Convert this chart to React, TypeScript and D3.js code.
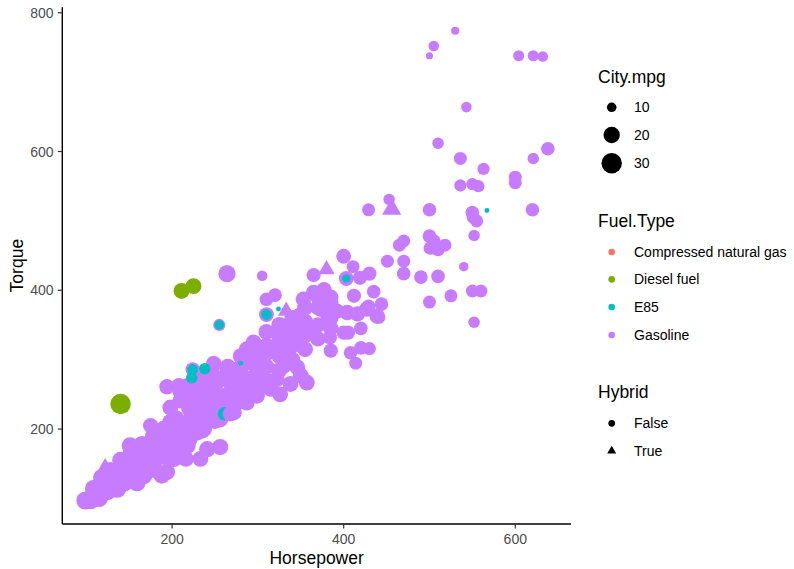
import React from 'react';
import * as d3 from 'd3';

// ---- data: [Horsepower, Torque, City.mpg] ----
const gasoline: [number, number, number][] = [
  [530, 774, 9], [505, 752, 11], [500, 738, 8.5], [604, 738, 11.5], [621, 738, 11.5], [632, 737, 11],
  [543, 664, 11], [510, 612, 12], [638, 604, 15], [621, 590, 12], [536, 590, 14], [563, 575, 13],
  [600, 563, 14], [600, 555, 14], [536, 551, 13], [550, 553, 13], [557, 550, 13], [453, 531, 12],
  [429, 516, 14], [500, 516, 15], [550, 512, 15], [551, 505, 14], [555, 500, 14], [620, 516, 15],
  [552, 479, 12], [500, 478, 15], [505, 471, 15], [501, 461, 15], [510, 459, 15], [518, 465, 14],
  [470, 471, 14], [465, 465, 14], [400, 449, 17], [411, 434, 14], [451, 442, 14], [470, 442, 14],
  [470, 424, 15], [403, 417, 17], [419, 418, 16], [430, 424, 16], [490, 419, 15], [510, 420, 15],
  [540, 434, 10], [435, 398, 15], [412, 392, 16], [444, 380, 15], [429, 377, 15], [525, 392, 14],
  [500, 383, 14], [550, 399, 14], [560, 399, 14], [552, 354, 12], [420, 345, 15], [400, 339, 16],
  [405, 339, 16], [384, 332, 16], [408, 310, 15], [420, 317, 15], [430, 316, 14], [441, 361, 14],
  [414, 295, 14],
  [264, 424, 22], [305, 421, 11], [365, 422, 16], [310, 387, 15], [320, 393, 15], [310, 365, 17],
  [255, 350, 13], [353, 387, 18], [365, 397, 18], [377, 401, 18], [385, 382, 18], [373, 373, 18],
  [381, 366, 18], [392, 370, 18], [404, 368, 18], [416, 366, 18], [427, 373, 18], [439, 363, 18],
  [385, 313, 16], [348, 363, 19], [357, 349, 19], [350, 334, 19], [342, 325, 19], [326, 320, 19],
  [311, 310, 19], [299, 306, 19], [291, 315, 19], [287, 296, 19], [276, 286, 19], [264, 282, 19],
  [249, 294, 18], [241, 282, 19], [229, 272, 19], [218, 262, 19], [210, 253, 19], [330, 291, 19],
  [346, 289, 19], [350, 277, 19], [322, 272, 19], [315, 258, 19], [299, 248, 19], [287, 238, 19],
  [272, 224, 19], [249, 234, 19], [233, 229, 19], [221, 214, 19], [338, 344, 19], [350, 349, 19],
  [361, 344, 19], [326, 334, 19], [357, 267, 19], [303, 286, 19], [332, 308, 19], [338, 265, 19],
  [326, 250, 19],
  [224, 286, 16], [248, 295, 16], [194, 261, 18], [208, 262, 19], [221, 260, 19], [198, 231, 19],
  [210, 241, 19], [225, 243, 19], [237, 248, 19], [175, 205, 18], [198, 210, 20], [214, 205, 20],
  [229, 214, 20], [241, 224, 20], [256, 214, 20], [218, 186, 20], [229, 195, 20], [237, 200, 20],
  [256, 174, 20], [241, 171, 20], [216, 157, 19], [233, 157, 19], [194, 138, 20], [188, 133, 20],
  [99, 97, 24], [109, 114, 24], [120, 123, 24], [132, 133, 24], [144, 142, 23], [155, 152, 22],
  [163, 167, 22], [151, 176, 21], [171, 162, 22], [183, 171, 22], [190, 181, 22], [198, 190, 22],
  [179, 142, 22], [167, 133, 22], [159, 123, 23], [144, 123, 24], [136, 114, 24], [116, 104, 24],
  [105, 98, 25], [202, 157, 20], [210, 162, 20], [218, 176, 20], [206, 181, 20], [194, 171, 20],
  [287, 315, 19], [295, 325, 19], [299, 301, 19], [280, 277, 19], [272, 258, 19], [287, 258, 19],
  [264, 243, 19], [249, 248, 19], [252, 267, 19], [241, 272, 19], [233, 234, 19], [252, 229, 19],
  [264, 248, 19],
  // dense band
  [115, 100, 22], [115, 118, 22], [118, 130, 22], [125, 110, 22], [125, 128, 22], [128, 140, 22],
  [140, 120, 22], [140, 138, 22], [140, 155, 21], [150, 130, 22], [150, 148, 22], [152, 165, 21],
  [165, 140, 21], [165, 158, 21], [165, 178, 21], [178, 150, 21], [178, 170, 21], [178, 190, 20],
  [190, 160, 20], [190, 180, 20], [190, 200, 20], [205, 172, 20], [205, 192, 20], [205, 215, 20],
  [220, 185, 20], [220, 205, 20], [220, 230, 20], [235, 198, 20], [235, 220, 20], [235, 240, 20],
  [235, 260, 19], [250, 212, 20], [250, 235, 20], [250, 255, 19], [250, 275, 19], [265, 230, 19],
  [265, 250, 19], [265, 270, 19], [265, 290, 19], [280, 240, 19], [280, 262, 19], [280, 285, 19],
  [280, 305, 19], [295, 255, 19], [295, 275, 19], [295, 295, 19], [295, 315, 19], [310, 270, 19],
  [310, 290, 19], [310, 320, 19], [310, 340, 19], [325, 285, 19], [325, 305, 19], [325, 330, 19],
  [325, 350, 19], [340, 300, 19], [340, 320, 19], [340, 340, 19], [340, 360, 19], [355, 315, 19],
  [355, 335, 19], [355, 355, 19], [355, 375, 19], [370, 330, 18], [370, 350, 18], [370, 375, 18],
  [370, 390, 18], [385, 345, 18], [385, 360, 18], [385, 390, 18],
];

const gasolineHybrid: [number, number, number][] = [
  [456, 517, 16], [380, 430, 13], [333, 370, 13], [122, 140, 20], [305, 260, 19],
];

const diesel: [number, number, number][] = [
  [211, 399, 19], [225, 406, 19], [140, 236, 30],
];

const e85: [number, number, number][] = [
  [403, 417, 9], [310, 365, 11], [255, 350, 10], [324, 373, 8], [567, 515, 8],
  [224, 286, 11], [238, 287, 12], [223, 274, 12], [280, 295, 8], [261, 222, 15],
];

const gasolineTop: [number, number, number][] = [[268, 222, 18]];

const xTicks = [200, 400, 600];
const yTicks = [200, 400, 600, 800];
const sizeBreaks = [10, 20, 30];
const mpgLimits = [8, 38];
const fuelTypes = ['Compressed natural gas', 'Diesel fuel', 'E85', 'Gasoline'];
const fuelColors = ['#F8766D', '#7CAE00', '#00BFC4', '#C77CFF'];
const hybridLevels = ['False', 'True'];

const FONT = '"Liberation Sans", Arial, Helvetica, sans-serif';

export default function App() {
  const all = [...gasoline, ...gasolineHybrid, ...diesel, ...e85, ...gasolineTop];
  const [hx0, hx1] = d3.extent(all, (d) => d[0]) as [number, number];
  const [ty0, ty1] = d3.extent(all, (d) => d[1]) as [number, number];
  const px = 0.05 * (hx1 - hx0);
  const py = 0.05 * (ty1 - ty0);

  const left = 62.3, right = 571, top = 7.3, bottom = 524;
  const x = d3.scaleLinear().domain([hx0 - px, hx1 + px]).range([left, right]);
  const y = d3.scaleLinear().domain([ty0 - py, ty1 + py]).range([bottom, top]);

  const t = d3.scaleLinear().domain(mpgLimits).range([0, 1]).clamp(true);
  const sizeOf = (mpg: number) => 1 + 5 * Math.sqrt(t(mpg));
  const rOf = (size: number) => 0.64 * (size * 2.845 + 0.945);
  const radius = (mpg: number) => rOf(sizeOf(mpg));

  const circles = (data: [number, number, number][], color: string, key: string) =>
    data.map((d, i) => (
      <circle key={key + i} cx={x(d[0])} cy={y(d[1])} r={radius(d[2])} fill={color} />
    ));
  const triangles = (data: [number, number, number][], color: string, key: string) =>
    data.map((d, i) => {
      const r = radius(d[2]);
      const path = d3.symbol(d3.symbolTriangle, Math.PI * r * r)();
      return (
        <path key={key + i} d={path || ''} transform={`translate(${x(d[0])},${y(d[1])})`} fill={color} />
      );
    });

  const legendX = 598;
  const keyX = 611.7;
  const labelX = 634;
  const sizeRows = [107.3, 135, 163.3];
  const fuelRows = [252, 279.3, 307, 335];
  const hybRows = [423.3, 451];
  const keyR = rOf(1.5);
  const triPath = d3.symbol(d3.symbolTriangle, Math.PI * keyR * keyR)() || '';

  return (
    <svg width={794} height={569} style={{ position: 'absolute', left: 0, top: 0, background: '#fff' }}
      fontFamily={FONT}>
      <rect x={0} y={0} width={794} height={569} fill="#fff" />
      {/* points */}
      {circles(gasoline, fuelColors[3], 'g')}
      {triangles(gasolineHybrid, fuelColors[3], 'h')}
      {circles(diesel, fuelColors[1], 'd')}
      {circles(e85, fuelColors[2], 'e')}
      {circles(gasolineTop, fuelColors[3], 't')}

      {/* axes */}
      <line x1={left} x2={right} y1={bottom} y2={bottom} stroke="#000" strokeWidth={1.4} />
      <line x1={left} x2={left} y1={top} y2={bottom} stroke="#000" strokeWidth={1.4} />
      {xTicks.map((v) => (
        <g key={'xt' + v}>
          <line x1={x(v)} x2={x(v)} y1={bottom} y2={bottom + 4.5} stroke="#333" strokeWidth={1.2} />
          <text x={x(v)} y={543.5} textAnchor="middle" fontSize={14} fill="#4D4D4D">{v}</text>
        </g>
      ))}
      {yTicks.map((v) => (
        <g key={'yt' + v}>
          <line x1={left - 4.5} x2={left} y1={y(v)} y2={y(v)} stroke="#333" strokeWidth={1.2} />
          <text x={53.5} y={y(v) + 5} textAnchor="end" fontSize={14} fill="#4D4D4D">{v}</text>
        </g>
      ))}
      <text x={(left + right) / 2} y={564} textAnchor="middle" fontSize={17.5} fill="#000">Horsepower</text>
      <text transform={`translate(22.5,${(top + bottom) / 2}) rotate(-90)`} textAnchor="middle" fontSize={17.5} fill="#000">Torque</text>

      {/* legend: size */}
      <text x={legendX} y={82.5} fontSize={17.5} fill="#000">City.mpg</text>
      {sizeBreaks.map((b, i) => (
        <g key={'sb' + b}>
          <circle cx={keyX} cy={sizeRows[i]} r={radius(b)} fill="#000" />
          <text x={labelX} y={sizeRows[i] + 5} fontSize={14} fill="#000">{b}</text>
        </g>
      ))}

      {/* legend: fuel */}
      <text x={legendX} y={226.7} fontSize={17.5} fill="#000">Fuel.Type</text>
      {fuelTypes.map((f, i) => (
        <g key={'ft' + f}>
          <circle cx={keyX} cy={fuelRows[i]} r={keyR} fill={fuelColors[i]} />
          <text x={labelX} y={fuelRows[i] + 5} fontSize={14} fill="#000">{f}</text>
        </g>
      ))}

      {/* legend: hybrid */}
      <text x={legendX} y={398.3} fontSize={17.5} fill="#000">Hybrid</text>
      {hybridLevels.map((h, i) => (
        <g key={'hy' + h}>
          {i === 0 ? (
            <circle cx={keyX} cy={hybRows[i]} r={keyR} fill="#000" />
          ) : (
            <path d={triPath} transform={`translate(${keyX},${hybRows[i]})`} fill="#000" />
          )}
          <text x={labelX} y={hybRows[i] + 5} fontSize={14} fill="#000">{h}</text>
        </g>
      ))}
    </svg>
  );
}
